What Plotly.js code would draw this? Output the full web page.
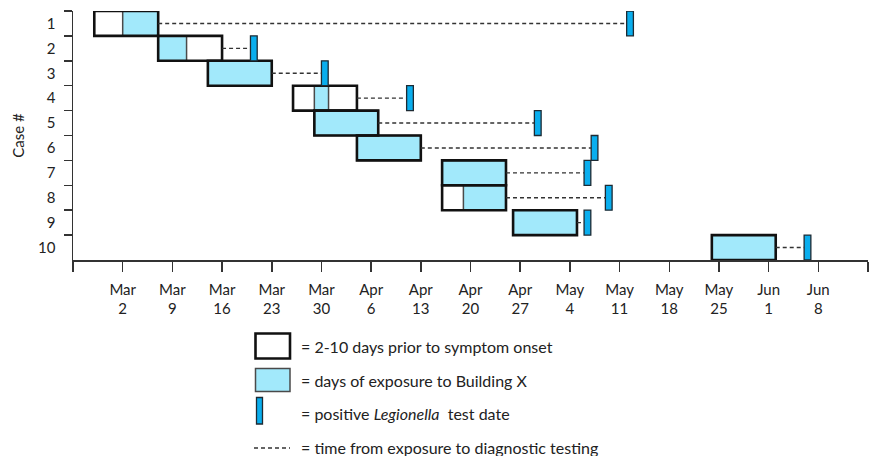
<!DOCTYPE html>
<html><head><meta charset="utf-8">
<script src="https://cdn.plot.ly/plotly-3.0.1.min.js"></script>
<style>html,body{margin:0;padding:0;background:#fff}#chart{width:875px;height:456px}</style>
</head><body><div id="chart"></div>
<script>
// ---- data ----
const cases = ['1','2','3','4','5','6','7','8','9','10'];
// 2-10 days prior to symptom onset (start inclusive, end = boundary)
const windowStart = ['2019-02-26','2019-03-07','2019-03-14','2019-03-26','2019-03-29','2019-04-04','2019-04-16','2019-04-16','2019-04-26','2019-05-24'];
const windowEnd   = ['2019-03-07','2019-03-16','2019-03-23','2019-04-04','2019-04-07','2019-04-13','2019-04-25','2019-04-25','2019-05-05','2019-06-02'];
// days of exposure to Building X
const exposureStart = ['2019-03-02','2019-03-07','2019-03-14','2019-03-29','2019-03-29','2019-04-04','2019-04-16','2019-04-19','2019-04-26','2019-05-24'];
const exposureEnd   = ['2019-03-07','2019-03-11','2019-03-23','2019-03-31','2019-04-07','2019-04-13','2019-04-25','2019-04-25','2019-05-05','2019-06-02'];
// positive Legionella test date
const testDate = ['2019-05-12','2019-03-20','2019-03-30','2019-04-11','2019-04-29','2019-05-07','2019-05-06','2019-05-09','2019-05-06','2019-06-06'];
// x axis ticks
const tickDates = ['2019-02-23','2019-03-02','2019-03-09','2019-03-16','2019-03-23','2019-03-30','2019-04-06','2019-04-13','2019-04-20','2019-04-27','2019-05-04','2019-05-11','2019-05-18','2019-05-25','2019-06-01','2019-06-08','2019-06-15'];
const tickLabels = ['','Mar<br>2','Mar<br>9','Mar<br>16','Mar<br>23','Mar<br>30','Apr<br>6','Apr<br>13','Apr<br>20','Apr<br>27','May<br>4','May<br>11','May<br>18','May<br>25','Jun<br>1','Jun<br>8',''];
const legendTexts = ['= 2-10 days prior to symptom onset','= days of exposure to Building X','= positive <i>Legionella</i>  test date','= time from exposure to diagnostic testing'];

// ---- build ----
const DAY = 86400000;
const dur = (a, b) => a.map((s, i) => Date.parse(b[i]) - Date.parse(s));

const FONT = 'Lato, "Open Sans", sans-serif';
const CYAN = '#A2E9FB';
const BLUE = '#0AAEEE';

const traces = [];
traces.push({
  type: 'bar', orientation: 'h', y: cases, base: exposureStart, x: dur(exposureStart, exposureEnd),
  width: 1, marker: {color: CYAN, line: {color: '#4a4a4a', width: 1.5}}, hoverinfo: 'skip', showlegend: false
});
traces.push({
  type: 'bar', orientation: 'h', y: cases, base: windowStart, x: dur(windowStart, windowEnd),
  width: 1, marker: {color: 'rgba(0,0,0,0)', line: {color: '#111', width: 2.6}}, hoverinfo: 'skip', showlegend: false
});
const lx = [], ly = [];
cases.forEach((c, i) => { lx.push(windowEnd[i], testDate[i], null); ly.push(c, c, null); });
traces.push({
  type: 'scatter', mode: 'lines', x: lx, y: ly, line: {color: '#333', width: 1.4, dash: '4px,3px'},
  hoverinfo: 'skip', showlegend: false
});
traces.push({
  type: 'bar', orientation: 'h', y: cases, base: testDate, x: testDate.map(() => DAY * 0.95),
  width: 1, marker: {color: BLUE, line: {color: '#1d2a33', width: 1.3}}, hoverinfo: 'skip', showlegend: false
});

// legend drawn in paper coordinates
const L = 73, W = 795, T = 11, H = 249;
const px = v => (v - L) / W;
const py = v => (T + H - v) / H;
const shapes = [
  {type: 'rect', xref: 'paper', yref: 'paper', x0: px(255.5), x1: px(290), y0: py(333.5), y1: py(358.5), fillcolor: '#fff', line: {color: '#111', width: 2.6}},
  {type: 'rect', xref: 'paper', yref: 'paper', x0: px(255.5), x1: px(290), y0: py(368.5), y1: py(391.5), fillcolor: CYAN, line: {color: '#4a4a4a', width: 1.5}},
  {type: 'rect', xref: 'paper', yref: 'paper', x0: px(256.5), x1: px(262.5), y0: py(397.5), y1: py(424), fillcolor: BLUE, line: {color: '#1d2a33', width: 1.3}},
  {type: 'line', xref: 'paper', yref: 'paper', x0: px(254), x1: px(290), y0: py(448), y1: py(448), line: {color: '#333', width: 1.4, dash: '4px,3px'}}
];
const legY = [346, 380, 413, 447];
const annotations = legendTexts.map((t, i) => ({
  xref: 'paper', yref: 'paper', x: px(299), y: py(legY[i]), xanchor: 'left', yanchor: 'middle',
  text: t, showarrow: false, font: {family: FONT, size: 16, color: '#222'}
}));

const layout = {
  width: 875, height: 456,
  margin: {l: L, r: 875 - L - W, t: T, b: 456 - T - H, pad: 0},
  paper_bgcolor: '#fff', plot_bgcolor: '#fff',
  barmode: 'overlay', showlegend: false,
  font: {family: FONT, color: '#222'},
  xaxis: {
    type: 'date', range: ['2019-02-23', '2019-06-15'],
    tickmode: 'array', tickvals: tickDates, ticktext: tickLabels,
    ticks: 'outside', ticklen: 10, tickwidth: 1.5, tickcolor: '#333',
    showline: true, linecolor: '#333', linewidth: 1.5,
    showgrid: false, zeroline: false,
    ticklabelstandoff: 5,
    tickfont: {family: FONT, size: 15, color: '#222'}
  },
  yaxis: {
    type: 'category', categoryorder: 'array', categoryarray: cases,
    range: [9.5, -0.5], tickson: 'boundaries',
    ticks: 'outside', ticklen: 8, tickwidth: 1.5, tickcolor: '#333',
    showline: true, linecolor: '#333', linewidth: 1.5,
    showgrid: false, zeroline: false,
    ticklabelstandoff: 13,
    tickfont: {family: FONT, size: 15, color: '#222'},
    title: {text: 'Case #', font: {family: FONT, size: 15, color: '#222'}, standoff: 10}
  },
  shapes: shapes,
  annotations: annotations
};

Plotly.newPlot('chart', traces, layout, {displayModeBar: false, staticPlot: true});
</script>
</body></html>
